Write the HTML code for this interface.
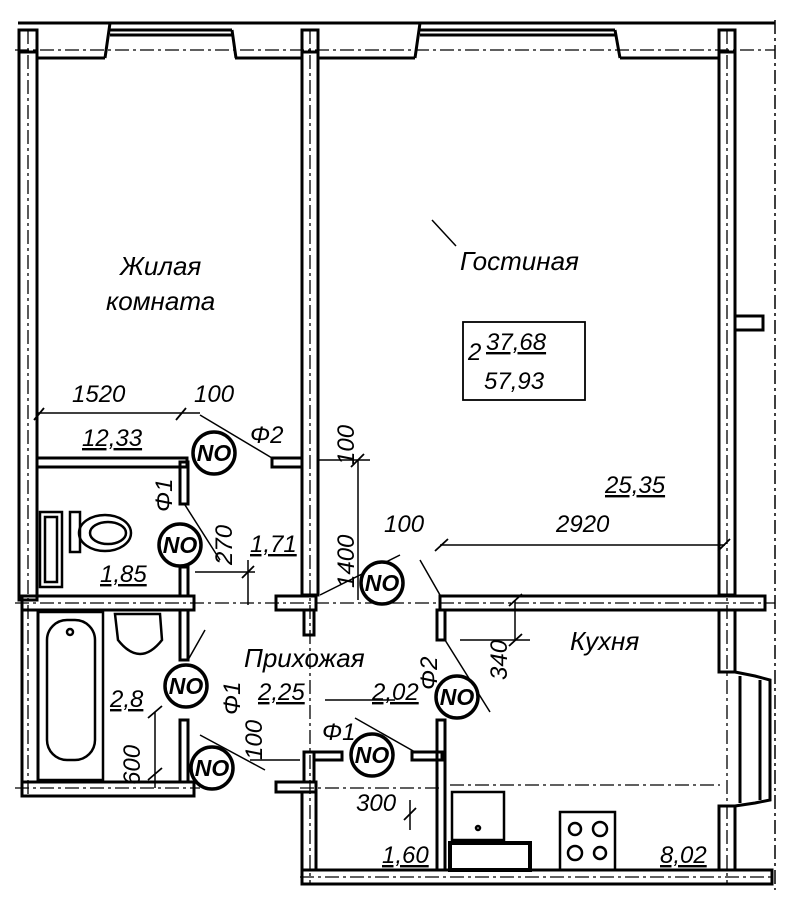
<!DOCTYPE html>
<html><head><meta charset="utf-8"><style>
html,body{margin:0;padding:0;background:#fff}
svg{display:block}
text{font-family:"Liberation Sans","DejaVu Sans",sans-serif;font-style:italic;fill:#000}
</style></head><body>
<svg width="800" height="902" viewBox="0 0 800 902" xmlns="http://www.w3.org/2000/svg">
<g fill="none" stroke="#000" stroke-width="3">
<line x1="18" y1="23" x2="775" y2="23"/>
<line x1="38" y1="58" x2="105" y2="58"/>
<line x1="235" y1="58" x2="302" y2="58"/>
<line x1="318" y1="58" x2="415" y2="58"/>
<line x1="620" y1="58" x2="718" y2="58"/>
<path d="M110,23 L105,58 M110,30 L232,30 M110,35 L232,35 M232,30 L236,58"/>
<path d="M420,23 L415,58 M420,30 L615,30 M420,35 L615,35 M615,30 L620,58"/>
<rect x="19" y="30" width="18" height="570"/>
<rect x="19" y="30" width="18" height="22"/>
<rect x="302" y="30" width="16" height="565"/>
<rect x="302" y="30" width="16" height="22"/>
<rect x="719" y="30" width="16" height="565"/>
<rect x="719" y="30" width="16" height="22"/>
<rect x="735" y="316" width="28" height="14"/>
<rect x="22" y="596" width="172" height="14"/>
<rect x="276" y="596" width="40" height="14"/>
<rect x="440" y="596" width="325" height="14"/>
<rect x="37" y="458" width="150" height="9"/>
<rect x="272" y="458" width="30" height="9"/>
<rect x="180" y="462" width="8" height="42"/>
<rect x="180" y="567" width="8" height="29"/>
<rect x="22" y="610" width="16" height="172"/>
<rect x="22" y="782" width="172" height="14"/>
<rect x="180" y="610" width="8" height="50"/>
<rect x="180" y="720" width="8" height="62"/>
<rect x="304" y="610" width="10" height="25"/>
<rect x="276" y="782" width="40" height="10"/>
<rect x="304" y="752" width="10" height="30"/>
<rect x="314" y="752" width="28" height="8"/>
<rect x="412" y="752" width="30" height="8"/>
<rect x="437" y="610" width="8" height="30"/>
<rect x="437" y="720" width="8" height="150"/>
<rect x="302" y="792" width="14" height="78"/>
<rect x="302" y="870" width="470" height="14"/>
<rect x="719" y="610" width="16" height="62"/>
<rect x="719" y="806" width="16" height="64"/>
<path d="M735,672 L755,676 L770,680 L770,800 L755,803 L735,806"/>
<line x1="740" y1="676" x2="740" y2="803"/>
<line x1="760" y1="680" x2="760" y2="800"/>
<line x1="775" y1="20" x2="775" y2="890" stroke-width="1.5" stroke-dasharray="14 4 3 4"/>
</g>
<g stroke="#000" stroke-width="1.3" stroke-dasharray="14 4 3 4" fill="none">
<line x1="15" y1="50" x2="775" y2="50"/>
<line x1="15" y1="603" x2="775" y2="603"/>
<line x1="15" y1="788" x2="200" y2="788"/>
<line x1="300" y1="788" x2="440" y2="788"/>
<line x1="300" y1="877" x2="775" y2="877"/>
<line x1="28" y1="30" x2="28" y2="795"/>
<line x1="310" y1="30" x2="310" y2="885"/>
<line x1="727" y1="30" x2="727" y2="885"/>
<line x1="450" y1="785" x2="720" y2="785"/>
</g>
<g fill="none" stroke="#000" stroke-width="2.5">
<rect x="40" y="512" width="22" height="75"/>
<rect x="45" y="517" width="12" height="65"/>
<rect x="70" y="512" width="10" height="40"/>
<ellipse cx="105" cy="533" rx="26" ry="18"/>
<ellipse cx="108" cy="533" rx="18" ry="11"/>
<rect x="38" y="612" width="65" height="168"/>
<rect x="47" y="620" width="48" height="140" rx="20"/>
<circle cx="70" cy="632" r="3"/>
<path d="M115,614 L160,614 L162,640 Q140,668 118,640 Z"/>
<rect x="452" y="792" width="52" height="48"/>
<circle cx="478" cy="828" r="2"/>
<rect x="450" y="843" width="80" height="27" stroke-width="4"/>
<rect x="560" y="812" width="55" height="58"/>
<circle cx="575" cy="829" r="6"/><circle cx="600" cy="829" r="7"/>
<circle cx="575" cy="853" r="7"/><circle cx="600" cy="853" r="6"/>
</g>
<g stroke="#000" stroke-width="1.5" fill="none">
<line x1="38" y1="413" x2="200" y2="413"/>
<line x1="318" y1="460" x2="370" y2="460"/>
<line x1="358" y1="460" x2="358" y2="600"/>
<line x1="440" y1="545" x2="725" y2="545"/>
<line x1="195" y1="572" x2="255" y2="572"/>
<line x1="248" y1="560" x2="248" y2="605"/>
<line x1="515" y1="600" x2="515" y2="640"/>
<line x1="460" y1="640" x2="530" y2="640"/>
<line x1="155" y1="712" x2="155" y2="788"/>
<line x1="250" y1="760" x2="300" y2="760"/>
<line x1="410" y1="800" x2="410" y2="830"/>
<line x1="325" y1="700" x2="395" y2="700"/>
<line x1="432" y1="220" x2="456" y2="246"/>
<line x1="200" y1="415" x2="272" y2="458"/>
<line x1="185" y1="505" x2="220" y2="560"/>
<line x1="320" y1="595" x2="400" y2="555"/>
<line x1="420" y1="560" x2="440" y2="595"/>
<line x1="445" y1="640" x2="490" y2="712"/>
<line x1="205" y1="630" x2="188" y2="660"/>
<line x1="200" y1="735" x2="265" y2="770"/>
<line x1="355" y1="718" x2="415" y2="752"/>
</g>
<g stroke="#000" stroke-width="1.8">
<path d="M34,420 L44,408 M176,420 L186,408 M351,467 L364,454 M435,551 L448,539 M718,551 L730,539 M242,578 L254,566 M509,606 L522,594 M509,646 L522,634 M148,718 L162,706 M148,780 L162,768 M404,820 L416,808"/>
</g>
<g fill="#fff" stroke="#000" stroke-width="3.5">
<circle cx="214" cy="453" r="21"/>
<circle cx="180" cy="545" r="21"/>
<circle cx="382" cy="583" r="21"/>
<circle cx="457" cy="697" r="21"/>
<circle cx="186" cy="686" r="21"/>
<circle cx="212" cy="768" r="21"/>
<circle cx="372" cy="755" r="21"/>
</g>
<g font-size="23" text-anchor="middle" font-weight="bold">
<text x="214" y="461">NO</text>
<text x="180" y="553">NO</text>
<text x="382" y="591">NO</text>
<text x="457" y="705">NO</text>
<text x="186" y="694">NO</text>
<text x="212" y="776">NO</text>
<text x="372" y="763">NO</text>
</g>
<g font-size="26">
<text x="120" y="275">Жилая</text>
<text x="106" y="310">комната</text>
<text x="460" y="270">Гостиная</text>
<text x="570" y="650">Кухня</text>
<text x="244" y="667">Прихожая</text>
</g>
<g font-size="24">
<text x="72" y="402">1520</text>
<text x="194" y="402">100</text>
<text x="82" y="446" text-decoration="underline">12,33</text>
<text x="250" y="443">Φ2</text>
<text x="605" y="493" text-decoration="underline">25,35</text>
<text x="556" y="532">2920</text>
<text x="384" y="532">100</text>
<text x="250" y="552" text-decoration="underline">1,71</text>
<text x="100" y="582" text-decoration="underline">1,85</text>
<text x="110" y="707" text-decoration="underline">2,8</text>
<text x="258" y="700" text-decoration="underline">2,25</text>
<text x="372" y="700" text-decoration="underline">2,02</text>
<text x="322" y="740">Φ1</text>
<text x="356" y="811">300</text>
<text x="382" y="863" text-decoration="underline">1,60</text>
<text x="660" y="863" text-decoration="underline">8,02</text>
<text x="486" y="350" text-decoration="underline">37,68</text>
<text x="468" y="360">2</text>
<text x="484" y="389">57,93</text>
</g>
<rect x="463" y="322" width="122" height="78" fill="none" stroke="#000" stroke-width="1.8"/>
<g font-size="24">
<text transform="translate(354,465) rotate(-90)">100</text>
<text transform="translate(354,588) rotate(-90)">1400</text>
<text transform="translate(232,565) rotate(-90)">270</text>
<text transform="translate(172,512) rotate(-90)">Φ1</text>
<text transform="translate(507,680) rotate(-90)">340</text>
<text transform="translate(437,690) rotate(-90)">Φ2</text>
<text transform="translate(140,785) rotate(-90)">600</text>
<text transform="translate(262,760) rotate(-90)">100</text>
<text transform="translate(240,715) rotate(-90)">Φ1</text>
</g>
</svg>
</body></html>
